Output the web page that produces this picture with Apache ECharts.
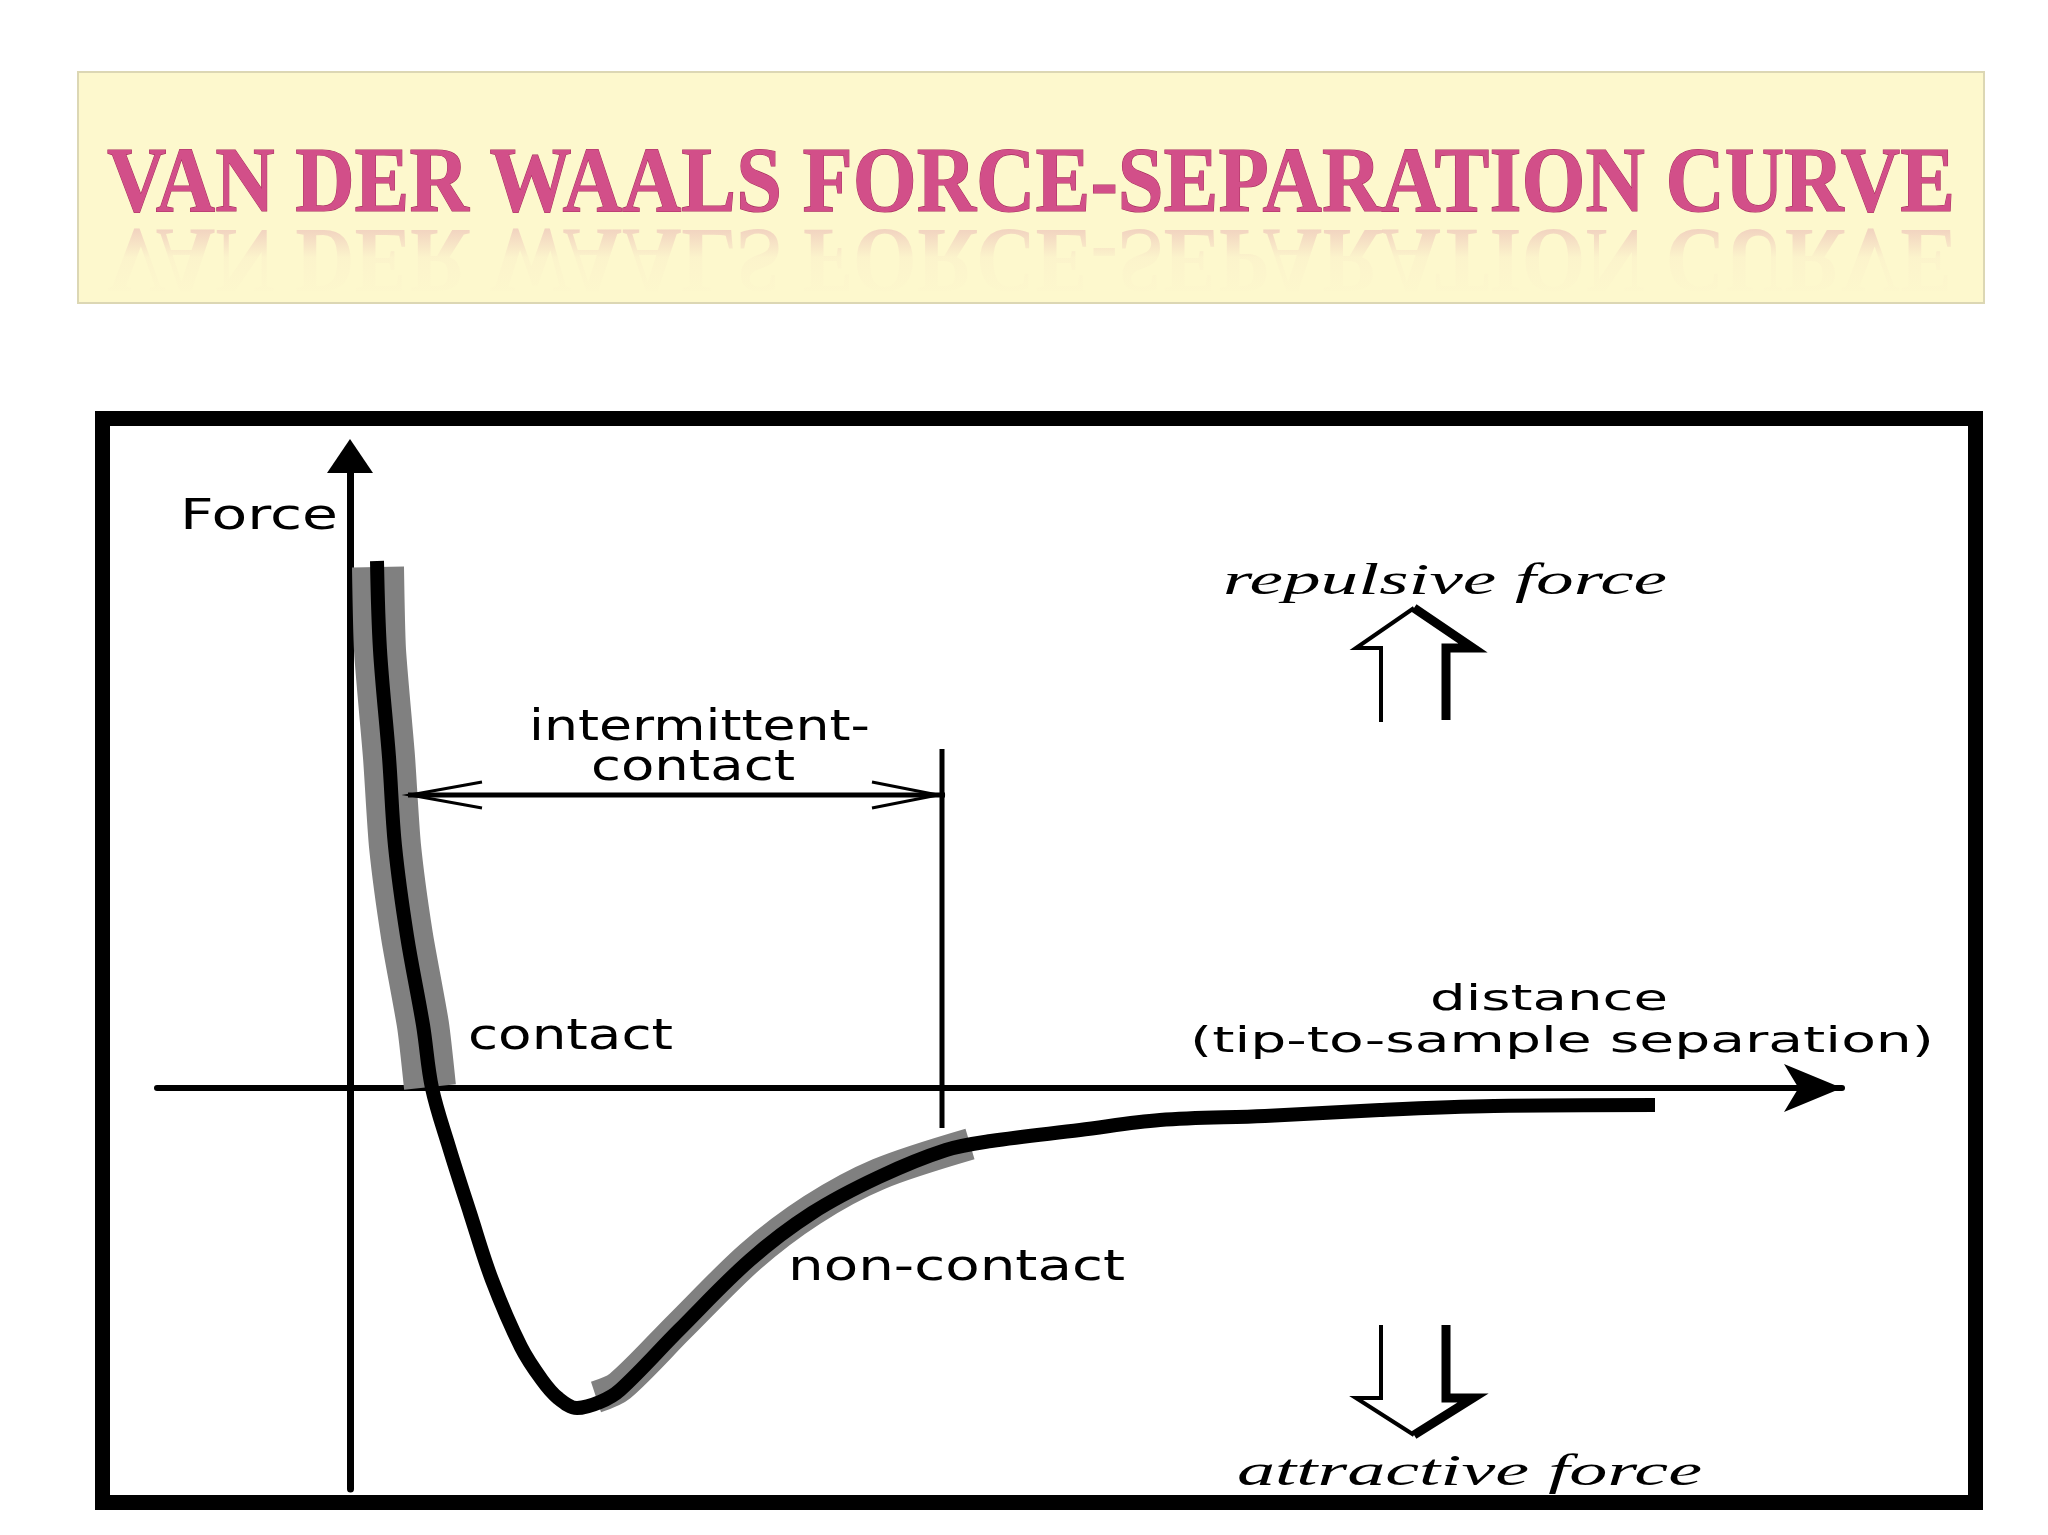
<!DOCTYPE html>
<html>
<head>
<meta charset="utf-8">
<title>Van der Waals force-separation curve</title>
<script src="https://cdn.jsdelivr.net/npm/echarts@6/dist/echarts.min.js"></script>
<style>
  html, body { margin: 0; padding: 0; background: #fff; }
  #chart { width: 2048px; height: 1535px; }
</style>
</head>
<body>
<div id="chart"></div>
<script>
// x = tip-to-sample distance, y = force (arbitrary units)

// the force-separation curve
const forceCurve = [
  [2.7, 52.7], [3.0, 43.8], [3.9, 33.1], [4.5, 24.2], [5.7, 15.2], [7.3, 6.3], [8.2, 0],
  [9.9, -5.9], [12.0, -12.5], [14.2, -19.2], [17.1, -25.9], [19.2, -29.2], [20.8, -31.0],
  [22.7, -32.0], [25.0, -31.4], [27.0, -30.2], [32.9, -24.2], [40.0, -17.2], [46.2, -12.5],
  [52.9, -8.9], [59.6, -6.2], [64.1, -5.3], [73.0, -4.2], [81.0, -3.2], [91.5, -2.8],
  [103.0, -2.2], [114.4, -1.8], [130.5, -1.7]
]

// grey highlight: contact regime
const contactBand = [[2.8, 52.1], [3.0, 43.8], [3.9, 33.1], [4.5, 24.2], [5.7, 15.2], [7.3, 6.3], [8.0, 0.1]]

// grey highlight: non-contact regime
const nonContactBand = [[24.6, -30.9], [27.0, -29.8], [32.9, -23.9], [40.0, -16.9], [46.2, -12.2], [52.9, -8.6], [62.0, -5.6]]

// intermittent-contact range marker
const rangeEndLine = [[59.2, 33.9], [59.2, -4.0]]
const rangeLine = [[5.8, 29.3], [59.5, 29.3]]
const rangeHeadLeft = [[13.2, 30.6], [6.0, 29.3], [13.2, 28.0]]
const rangeHeadRight = [[52.2, 30.6], [58.8, 29.3], [52.2, 28.0]]

// hollow direction arrows (thin left half, heavy right half)
const upArrowLeft = [[103.1, 36.6], [103.1, 44.0], [100.6, 44.0], [106.4, 48.0]]
const upArrowRight = [[106.4, 48.0], [112.3, 44.0], [109.6, 44.0], [109.6, 36.8]]
const downArrowLeft = [[103.1, -23.7], [103.1, -31.0], [100.6, -31.0], [106.4, -34.7]]
const downArrowRight = [[106.4, -34.7], [112.3, -31.0], [109.6, -31.0], [109.6, -23.7]]

// axis ranges
const xRange = [-19.3, 149.2]
const yRange = [-40.1, 63.2]

// text: [text, x from, x to, baseline]
const sansLabels = [
  ['Force', -17.0, -1.2, 55.6],
  ['intermittent-', 17.9, 52.0, 34.5],
  ['contact', 24.1, 44.5, 30.5],
  ['contact', 11.8, 32.3, 3.6],
  ['non-contact', 43.8, 77.5, -19.5]
]
const distanceLabels = [
  ['distance', 108.0, 131.8, 7.5],
  ['(tip-to-sample separation)', 84.0, 158.4, 3.3]
]
const forceLabels = [
  ['repulsive force', 87.3, 131.7, 49.1],
  ['attractive force', 88.7, 135.2, -40.0]
]
const titleText = 'VAN DER WAALS FORCE-SEPARATION CURVE'

const chart = echarts.init(document.getElementById('chart'))

function line(name, data, width, color, extra) {
  return Object.assign({
    name: name,
    type: 'line',
    data: data,
    symbol: 'none',
    clip: false,
    silent: true,
    lineStyle: {color: color, width: width, cap: 'butt', join: 'miter'}
  }, extra || {})
}

chart.setOption({
  animation: false,
  backgroundColor: '#fff',
  grid: {left: 157, right: 206, top: 456, bottom: 46},
  xAxis: {
    type: 'value',
    min: xRange[0],
    max: xRange[1],
    axisLine: {
      onZero: true,
      symbol: ['none', 'arrow'],
      symbolSize: [36, 58],
      lineStyle: {color: '#000', width: 6}
    },
    axisTick: {show: false},
    axisLabel: {show: false},
    splitLine: {show: false}
  },
  yAxis: {
    type: 'value',
    min: yRange[0],
    max: yRange[1],
    axisLine: {
      onZero: true,
      symbol: ['none', 'triangle'],
      symbolSize: [46, 34],
      lineStyle: {color: '#000', width: 7}
    },
    axisTick: {show: false},
    axisLabel: {show: false},
    splitLine: {show: false}
  },
  series: [
    line('contact band', contactBand, 52, '#808080', {smooth: 0.2, z: 1}),
    line('non-contact band', nonContactBand, 32, '#808080', {smooth: 0.3, z: 1}),
    line('force', forceCurve, 14, '#000', {smooth: 0.35, z: 3, lineStyle: {color: '#000', width: 14, cap: 'butt', join: 'round'}}),
    line('range end', rangeEndLine, 5, '#000'),
    line('range', rangeLine, 5, '#000'),
    line('range head left', rangeHeadLeft, 3, '#000'),
    line('range head right', rangeHeadRight, 3, '#000'),
    line('repulsive left', upArrowLeft, 4, '#000'),
    line('repulsive right', upArrowRight, 9, '#000'),
    line('attractive left', downArrowLeft, 4, '#000'),
    line('attractive right', downArrowRight, 9, '#000')
  ]
})

// text placement: stretch each label to the span it covers in the figure
const measureCtx = document.createElement('canvas').getContext('2d')

function textWidth(font, text) {
  measureCtx.font = font
  return measureCtx.measureText(text).width
}

function placeLabels(list, family, size, style) {
  const font = style + ' ' + size + 'px ' + family
  return list.map(function (item) {
    const a = chart.convertToPixel({gridIndex: 0}, [item[1], item[3]])
    const b = chart.convertToPixel({gridIndex: 0}, [item[2], item[3]])
    return {
      type: 'text',
      x: a[0],
      y: a[1],
      scaleX: (b[0] - a[0]) / textWidth(font, item[0]),
      z: 10,
      style: {
        text: item[0],
        x: 0,
        y: -0.34 * size,
        font: font,
        fill: '#000',
        align: 'left',
        verticalAlign: 'middle'
      }
    }
  })
}

const titleSize = 94
const titleFont = 'bold ' + titleSize + 'px "Liberation Serif"'
const titleScale = 1848 / textWidth(titleFont, titleText)
const bannerFill = '#FDF8CD'

const graphics = [
  {
    type: 'rect',
    shape: {x: 78, y: 72, width: 1906, height: 231},
    style: {fill: bannerFill, stroke: '#DCD7B4', lineWidth: 2},
    z: 0
  },
  // faint mirrored title
  {
    type: 'text',
    x: 1031,
    y: 222,
    scaleX: titleScale,
    scaleY: -1,
    z: 1,
    style: {
      text: titleText,
      x: 0,
      y: -0.34 * titleSize,
      font: titleFont,
      align: 'center',
      verticalAlign: 'middle',
      fill: 'rgba(212,110,155,0.32)'
    }
  },
  // fade the reflection out into the banner
  {
    type: 'rect',
    shape: {x: 80, y: 222, width: 1902, height: 79},
    style: {
      fill: new echarts.graphic.LinearGradient(0, 0, 0, 1, [
        {offset: 0, color: 'rgba(253,248,205,0)'},
        {offset: 0.45, color: 'rgba(253,248,205,0.9)'},
        {offset: 1, color: 'rgba(253,248,205,1)'}
      ])
    },
    z: 1.5
  },
  {
    type: 'text',
    x: 1031,
    y: 219,
    scaleX: titleScale,
    z: 2,
    style: {
      text: titleText,
      x: 0,
      y: -0.34 * titleSize,
      font: titleFont,
      align: 'center',
      verticalAlign: 'middle',
      fill: '#D24F89',
      stroke: '#A8305F',
      lineWidth: 1.2
    }
  },
  {
    type: 'rect',
    shape: {x: 102.5, y: 418.5, width: 1873, height: 1084},
    style: {fill: 'none', stroke: '#000', lineWidth: 15},
    z: 5
  }
]
  .concat(placeLabels(sansLabels, '"DejaVu Sans"', 42, 'normal'))
  .concat(placeLabels(distanceLabels, '"DejaVu Sans"', 36, 'normal'))
  .concat(placeLabels(forceLabels, '"Liberation Serif"', 45, 'italic'))

chart.setOption({graphic: graphics})
</script>
</body>
</html>
